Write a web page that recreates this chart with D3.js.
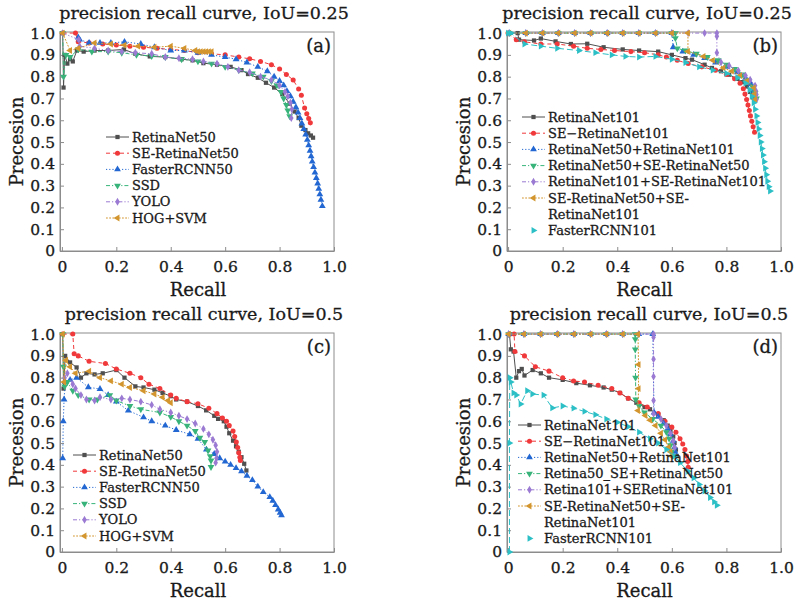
<!DOCTYPE html>
<html>
<head>
<meta charset="utf-8">
<script src="https://cdn.jsdelivr.net/npm/d3@7"></script>
<style>
  body { margin: 0; background: #fff; }
  text { font-family: "DejaVu Serif", serif; fill: #1a1a1a; stroke: #1a1a1a; stroke-width: 0.3px; }
</style>
</head>
<body>
<svg id="chart" width="801" height="603"></svg>
<script>
// ---- data: [recall, precision] ----
const xTicks = [0, 0.2, 0.4, 0.6, 0.8, 1.0];
const yTicks = [0, 0.1, 0.2, 0.3, 0.4, 0.5, 0.6, 0.7, 0.8, 0.9, 1.0];

const namesA = ['RetinaNet50', 'SE-RetinaNet50', 'FasterRCNN50', 'SSD', 'YOLO', 'HOG+SVM'];
const namesB = ['RetinaNet101', 'SE\u2212RetinaNet101', 'RetinaNet50+RetinaNet101', 'RetinaNet50+SE-RetinaNet50',
  'RetinaNet101+SE-RetinaNet101', 'SE-RetinaNet50+SE-\nRetinaNet101', 'FasterRCNN101'];
const namesD = ['RetinaNet101', 'SE\u2212RetinaNet101', 'RetinaNet50+RetinaNet101', 'Retina50_SE+RetinaNet50',
  'Retina101+SERetinaNet101', 'SE-RetinaNet50+SE-\nRetinaNet101', 'FasterRCNN101'];

// (a) IoU=0.25
const aRetina50 = [[0.003,1.0],[0.006,0.75],[0.01,0.9],[0.02,0.86],[0.03,0.88],[0.04,0.87],[0.055,0.92],[0.08,0.915],[0.12,0.92],[0.17,0.92],[0.228,0.925],[0.27,0.905],[0.323,0.893],[0.38,0.89],[0.44,0.88],[0.48,0.875],[0.52,0.862],[0.57,0.855],[0.62,0.845],[0.66,0.83],[0.684,0.812],[0.72,0.795],[0.75,0.772],[0.78,0.75],[0.81,0.72],[0.837,0.676],[0.855,0.64],[0.87,0.61],[0.88,0.575],[0.895,0.555],[0.905,0.54],[0.915,0.53],[0.923,0.52]];
const aSE50 = [[0.003,1.0],[0.05,1.0],[0.06,0.96],[0.1,0.955],[0.15,0.95],[0.2,0.945],[0.25,0.94],[0.3,0.935],[0.35,0.93],[0.4,0.925],[0.45,0.92],[0.5,0.91],[0.55,0.905],[0.6,0.9],[0.65,0.89],[0.69,0.882],[0.73,0.87],[0.77,0.855],[0.8,0.835],[0.825,0.81],[0.85,0.785],[0.87,0.743],[0.88,0.715],[0.892,0.656],[0.9,0.63],[0.907,0.608],[0.913,0.588]];
const aFaster50 = [[0.06,0.98],[0.065,0.97],[0.1,0.955],[0.14,0.955],[0.18,0.955],[0.23,0.96],[0.29,0.95],[0.34,0.935],[0.4,0.92],[0.45,0.92],[0.5,0.91],[0.55,0.9],[0.6,0.89],[0.64,0.88],[0.68,0.865],[0.72,0.845],[0.755,0.825],[0.78,0.8],[0.8,0.78],[0.815,0.76],[0.827,0.734],[0.84,0.71],[0.85,0.685],[0.86,0.66],[0.868,0.635],[0.875,0.61],[0.882,0.585],[0.889,0.56],[0.896,0.535],[0.902,0.51],[0.907,0.485],[0.912,0.46],[0.916,0.435],[0.92,0.41],[0.925,0.385],[0.93,0.36],[0.935,0.335],[0.94,0.31],[0.944,0.285],[0.948,0.26],[0.952,0.235],[0.957,0.206]];
const aSSD = [[0.003,1.0],[0.006,0.8],[0.015,0.9],[0.03,0.89],[0.06,0.925],[0.11,0.915],[0.17,0.915],[0.22,0.91],[0.274,0.9],[0.33,0.895],[0.38,0.89],[0.44,0.88],[0.5,0.87],[0.55,0.86],[0.6,0.845],[0.65,0.83],[0.7,0.815],[0.74,0.8],[0.77,0.78],[0.79,0.76],[0.805,0.73],[0.815,0.7],[0.825,0.67],[0.83,0.645],[0.837,0.618]];
const aYOLO = [[0.003,1.0],[0.062,0.97],[0.065,0.94],[0.12,0.93],[0.17,0.92],[0.22,0.915],[0.27,0.91],[0.33,0.905],[0.38,0.89],[0.43,0.885],[0.48,0.88],[0.52,0.87],[0.57,0.86],[0.61,0.845],[0.65,0.83],[0.69,0.82],[0.73,0.8],[0.77,0.785],[0.8,0.76],[0.82,0.73],[0.83,0.71],[0.84,0.68],[0.845,0.65],[0.843,0.61]];
const aHOG = [[0.003,1.0],[0.03,0.92],[0.06,0.93],[0.12,0.955],[0.18,0.95],[0.23,0.945],[0.28,0.94],[0.34,0.935],[0.4,0.94],[0.45,0.93],[0.49,0.92],[0.5,0.915],[0.51,0.915],[0.52,0.915],[0.53,0.915],[0.54,0.915],[0.55,0.915]];

// (b) IoU=0.25
const bRetina101 = [[0.0,1.0],[0.035,1.0],[0.04,0.97],[0.095,0.966],[0.12,0.975],[0.174,0.962],[0.23,0.95],[0.29,0.951],[0.35,0.935],[0.42,0.925],[0.48,0.92],[0.55,0.915],[0.6,0.9],[0.65,0.885],[0.674,0.878],[0.72,0.855],[0.747,0.84],[0.78,0.825],[0.81,0.809],[0.84,0.79],[0.86,0.775],[0.875,0.755],[0.887,0.73],[0.897,0.705],[0.905,0.69]];
const bSE101 = [[0.0,1.0],[0.03,0.97],[0.06,0.96],[0.12,0.95],[0.18,0.95],[0.24,0.94],[0.29,0.93],[0.34,0.925],[0.39,0.92],[0.45,0.915],[0.5,0.91],[0.55,0.9],[0.58,0.89],[0.62,0.875],[0.66,0.86],[0.71,0.845],[0.76,0.83],[0.8,0.81],[0.83,0.79],[0.85,0.77],[0.862,0.745],[0.868,0.72],[0.874,0.695],[0.879,0.67],[0.884,0.645],[0.888,0.62],[0.893,0.595],[0.898,0.57],[0.903,0.545]];
const bR50R101 = [[0.004,1.0],[0.065,1.0],[0.126,1.0],[0.184,1.0],[0.244,1.0],[0.302,1.0],[0.363,1.0],[0.42,1.0],[0.479,1.0],[0.54,1.0],[0.6,1.0],[0.605,0.935],[0.64,0.915],[0.68,0.9],[0.72,0.885],[0.76,0.865],[0.8,0.845],[0.84,0.82],[0.87,0.795],[0.89,0.765],[0.9,0.735],[0.905,0.705]];
const bR50SE50 = [[0.004,1.0],[0.065,1.0],[0.126,1.0],[0.184,1.0],[0.244,1.0],[0.302,1.0],[0.363,1.0],[0.42,1.0],[0.479,1.0],[0.54,1.0],[0.6,1.0],[0.613,1.0],[0.613,0.977],[0.62,0.93],[0.65,0.92],[0.69,0.905],[0.73,0.89],[0.77,0.875],[0.8,0.855],[0.83,0.835],[0.86,0.81],[0.88,0.785],[0.895,0.755],[0.905,0.725],[0.91,0.7]];
const bR101SE101 = [[0.004,1.0],[0.065,1.0],[0.126,1.0],[0.184,1.0],[0.244,1.0],[0.302,1.0],[0.363,1.0],[0.42,1.0],[0.479,1.0],[0.54,1.0],[0.6,1.0],[0.66,1.0],[0.72,1.0],[0.765,1.0],[0.765,0.985],[0.765,0.91],[0.78,0.866],[0.81,0.85],[0.844,0.827],[0.87,0.805],[0.887,0.786],[0.905,0.759],[0.908,0.735],[0.91,0.718],[0.91,0.695]];
const bSE50SE101 = [[0.004,1.0],[0.065,1.0],[0.126,1.0],[0.184,1.0],[0.244,1.0],[0.302,1.0],[0.363,1.0],[0.42,1.0],[0.479,1.0],[0.54,1.0],[0.6,1.0],[0.659,1.0],[0.659,0.916],[0.716,0.893],[0.75,0.875],[0.789,0.84],[0.82,0.825],[0.85,0.805],[0.875,0.78],[0.9,0.748],[0.903,0.72],[0.905,0.695]];
const bFaster101 = [[0.0,1.0],[0.01,1.0],[0.06,0.95],[0.12,0.94],[0.18,0.93],[0.26,0.92],[0.32,0.91],[0.38,0.9],[0.43,0.893],[0.48,0.89],[0.54,0.893],[0.6,0.88],[0.65,0.865],[0.7,0.845],[0.75,0.83],[0.8,0.815],[0.84,0.795],[0.87,0.77],[0.885,0.74],[0.893,0.71],[0.9,0.68],[0.905,0.65],[0.91,0.62],[0.914,0.59],[0.918,0.56],[0.922,0.53],[0.926,0.5],[0.93,0.47],[0.934,0.44],[0.938,0.41],[0.942,0.38],[0.946,0.35],[0.95,0.32],[0.955,0.295],[0.96,0.275]];

// (c) IoU=0.5
const cRetina50 = [[0.003,1.0],[0.006,0.75],[0.012,0.9],[0.03,0.87],[0.054,0.847],[0.07,0.8],[0.09,0.82],[0.12,0.815],[0.15,0.82],[0.2,0.835],[0.23,0.8],[0.27,0.76],[0.3,0.755],[0.34,0.745],[0.37,0.73],[0.4,0.715],[0.42,0.7],[0.46,0.69],[0.5,0.67],[0.53,0.65],[0.56,0.625],[0.574,0.611],[0.595,0.6],[0.605,0.575],[0.615,0.545],[0.629,0.511],[0.64,0.485],[0.65,0.46],[0.66,0.435],[0.67,0.405],[0.678,0.374]];
const cSE50 = [[0.003,1.0],[0.04,1.0],[0.045,0.91],[0.06,0.9],[0.1,0.875],[0.16,0.865],[0.2,0.84],[0.25,0.82],[0.29,0.8],[0.32,0.77],[0.36,0.75],[0.4,0.72],[0.42,0.705],[0.46,0.69],[0.5,0.68],[0.54,0.66],[0.57,0.635],[0.59,0.615],[0.605,0.6],[0.615,0.58],[0.629,0.555],[0.635,0.53],[0.641,0.505],[0.646,0.48],[0.65,0.455],[0.654,0.435],[0.656,0.42]];
const cFaster50 = [[0.003,0.43],[0.005,0.6],[0.008,0.7],[0.012,0.78],[0.03,0.79],[0.054,0.8],[0.097,0.756],[0.14,0.748],[0.17,0.72],[0.2,0.69],[0.244,0.649],[0.3,0.618],[0.33,0.6],[0.38,0.58],[0.42,0.56],[0.47,0.54],[0.5,0.52],[0.531,0.47],[0.56,0.45],[0.58,0.43],[0.6,0.415],[0.62,0.4],[0.64,0.385],[0.66,0.37],[0.68,0.35],[0.7,0.33],[0.72,0.3],[0.74,0.275],[0.764,0.252],[0.775,0.235],[0.785,0.215],[0.795,0.195],[0.802,0.18],[0.807,0.168]];
const cSSD = [[0.003,1.0],[0.006,0.85],[0.01,0.76],[0.02,0.78],[0.04,0.74],[0.06,0.72],[0.1,0.7],[0.13,0.7],[0.176,0.72],[0.2,0.695],[0.25,0.67],[0.29,0.655],[0.36,0.64],[0.4,0.62],[0.43,0.6],[0.46,0.58],[0.49,0.555],[0.507,0.524],[0.525,0.505],[0.537,0.466],[0.545,0.44],[0.548,0.42],[0.548,0.39]];
const cYOLO = [[0.01,0.8],[0.02,0.82],[0.04,0.77],[0.05,0.75],[0.07,0.72],[0.09,0.7],[0.12,0.695],[0.14,0.71],[0.18,0.7],[0.22,0.705],[0.25,0.7],[0.29,0.69],[0.33,0.675],[0.36,0.655],[0.4,0.64],[0.43,0.625],[0.46,0.61],[0.49,0.59],[0.52,0.565],[0.54,0.54],[0.555,0.515],[0.565,0.49],[0.57,0.46],[0.568,0.43],[0.565,0.41]];
const cHOG = [[0.003,1.0],[0.008,0.78],[0.015,0.88],[0.03,0.85],[0.05,0.82],[0.1,0.83],[0.14,0.8],[0.18,0.785],[0.22,0.77],[0.25,0.755],[0.3,0.74],[0.34,0.725],[0.37,0.71],[0.39,0.695],[0.4,0.685]];

// (d) IoU=0.5
const dRetina101 = [[0.005,1.0],[0.01,0.93],[0.02,0.92],[0.03,0.8],[0.04,0.83],[0.05,0.84],[0.06,0.81],[0.09,0.835],[0.12,0.82],[0.15,0.8],[0.2,0.79],[0.25,0.775],[0.3,0.765],[0.35,0.755],[0.38,0.745],[0.41,0.73],[0.44,0.705],[0.47,0.685],[0.5,0.665],[0.52,0.655],[0.55,0.63],[0.57,0.605],[0.585,0.58],[0.595,0.555],[0.605,0.53],[0.61,0.5],[0.615,0.47],[0.618,0.44]];
const dSE101 = [[0.005,1.0],[0.022,1.0],[0.025,0.92],[0.06,0.9],[0.1,0.85],[0.15,0.83],[0.2,0.8],[0.24,0.785],[0.28,0.78],[0.33,0.765],[0.38,0.75],[0.41,0.73],[0.44,0.705],[0.48,0.685],[0.51,0.665],[0.55,0.635],[0.575,0.6],[0.6,0.573],[0.615,0.55],[0.63,0.52],[0.64,0.496],[0.648,0.47],[0.654,0.44],[0.658,0.415],[0.66,0.389]];
const dR50R101 = [[0.002,1.0],[0.058,1.0],[0.119,1.0],[0.18,1.0],[0.241,1.0],[0.302,1.0],[0.36,1.0],[0.42,1.0],[0.479,1.0],[0.53,1.0],[0.535,0.64],[0.55,0.62],[0.57,0.59],[0.585,0.565],[0.595,0.54],[0.605,0.51],[0.61,0.48],[0.612,0.46]];
const dR50SE50 = [[0.002,1.0],[0.058,1.0],[0.119,1.0],[0.18,1.0],[0.241,1.0],[0.302,1.0],[0.36,1.0],[0.42,1.0],[0.466,1.0],[0.466,0.977],[0.466,0.93],[0.467,0.8],[0.468,0.7],[0.48,0.67],[0.5,0.64],[0.53,0.61],[0.56,0.58],[0.58,0.55],[0.59,0.52],[0.595,0.49],[0.6,0.46]];
const dR101SE101 = [[0.002,1.0],[0.058,1.0],[0.119,1.0],[0.18,1.0],[0.241,1.0],[0.302,1.0],[0.36,1.0],[0.42,1.0],[0.479,1.0],[0.533,1.0],[0.533,0.985],[0.533,0.885],[0.533,0.805],[0.533,0.695],[0.533,0.634],[0.56,0.61],[0.58,0.58],[0.595,0.545],[0.605,0.51],[0.61,0.48]];
const dSE50SE101 = [[0.002,1.0],[0.058,1.0],[0.119,1.0],[0.18,1.0],[0.241,1.0],[0.302,1.0],[0.36,1.0],[0.42,1.0],[0.476,1.0],[0.478,0.86],[0.478,0.75],[0.476,0.649],[0.503,0.626],[0.52,0.605],[0.54,0.58],[0.56,0.545],[0.575,0.515],[0.588,0.481],[0.595,0.46],[0.598,0.44]];
const dFaster101 = [[0.005,0.0],[0.005,0.5],[0.006,0.8],[0.01,0.78],[0.02,0.73],[0.03,0.72],[0.046,0.679],[0.07,0.74],[0.089,0.725],[0.13,0.72],[0.162,0.661],[0.2,0.67],[0.24,0.66],[0.28,0.645],[0.32,0.63],[0.36,0.61],[0.4,0.595],[0.44,0.575],[0.48,0.55],[0.52,0.52],[0.55,0.5],[0.58,0.47],[0.61,0.44],[0.63,0.41],[0.66,0.37],[0.68,0.34],[0.7,0.31],[0.72,0.28],[0.74,0.25],[0.755,0.23],[0.765,0.214]];

// ---- styles by series index ----
const colors = ['#4f4f4f', '#f0393b', '#2368d2', '#38b47a', '#9a7ad2', '#d3962f', '#2cc0c6'];
const dashes = [null, '4,3', '1.2,2', '4,2,1.2,2', '4,2,1.2,2,1.2,2', '1.8,1.4', '6,3'];
const shapes = [
  {type: d3.symbolSquare, rot: 0, size: 18},
  {type: d3.symbolCircle, rot: 0, size: 20},
  {type: d3.symbolTriangle, rot: 0, size: 20},
  {type: d3.symbolTriangle, rot: 180, size: 20},
  {type: d3.symbolDiamond, rot: 0, size: 18},
  {type: d3.symbolTriangle, rot: -90, size: 20},
  {type: d3.symbolTriangle, rot: 90, size: 20}
];

const W = 274, H = 219;
const panels = [
  {left: 60, top: 32, x0: -0.007, titleShift: 7, title: 'precision recall curve, IoU=0.25', tag: '(a)',
   series: [aRetina50, aSE50, aFaster50, aSSD, aYOLO, aHOG], names: namesA, legend: {x: 46, y: 105}},
  {left: 507, top: 32, x0: -0.004, titleShift: 3, title: 'precision recall curve, IoU=0.25', tag: '(b)',
   series: [bRetina101, bSE101, bR50R101, bR50SE50, bR101SE101, bSE50SE101, bFaster101], names: namesB, legend: {x: 15, y: 85}},
  {left: 60, top: 333, x0: -0.007, titleShift: 7, title: 'precision recall curve, IoU=0.5', tag: '(c)',
   series: [cRetina50, cSE50, cFaster50, cSSD, cYOLO, cHOG], names: namesA, legend: {x: 13, y: 122}},
  {left: 507, top: 333, x0: -0.004, titleShift: 5, title: 'precision recall curve, IoU=0.5', tag: '(d)',
   series: [dRetina101, dSE101, dR50R101, dR50SE50, dR101SE101, dSE50SE101, dFaster101], names: namesD, legend: {x: 11, y: 92}}
];

const svg = d3.select('#chart');
const fmt = d => d === 0 ? '0' : d.toFixed(1);

function symbolPath(i) {
  return d3.symbol().type(shapes[i].type).size(shapes[i].size)();
}

panels.forEach(p => {
  const g = svg.append('g').attr('transform', `translate(${p.left},${p.top})`);
  const x = d3.scaleLinear().domain([p.x0, 1.0]).range([0, W]);
  const y = d3.scaleLinear().domain([0, 1.005]).range([H, 0]);

  // frame
  g.append('rect').attr('width', W).attr('height', H)
    .attr('fill', 'none').attr('stroke', '#8c8c8c').attr('stroke-width', 1);

  const xAxis = d3.axisBottom(x).tickValues(xTicks).tickFormat(fmt)
    .tickSizeInner(-4).tickSizeOuter(0).tickPadding(10);
  const yAxis = d3.axisLeft(y).tickValues(yTicks).tickFormat(fmt)
    .tickSizeInner(-4).tickSizeOuter(0).tickPadding(5);

  const xg = g.append('g').attr('transform', `translate(0,${H})`).call(xAxis);
  const yg = g.append('g').call(yAxis);
  [xg, yg].forEach(a => {
    a.select('.domain').attr('stroke', '#8c8c8c');
    a.selectAll('.tick line').attr('stroke', '#8c8c8c');
    a.selectAll('.tick text').attr('font-size', 15.5).attr('font-family', '"DejaVu Serif", serif').attr('fill', '#1a1a1a');
  });

  // axis titles
  g.append('text').attr('x', (x(0) + x(1)) / 2).attr('y', H + 45)
    .attr('text-anchor', 'middle').attr('font-size', 18).text('Recall');
  g.append('text').attr('transform', `translate(-37,${H / 2}) rotate(-90)`)
    .attr('text-anchor', 'middle').attr('font-size', 18).text('Precesion');
  g.append('text').attr('x', W / 2 + p.titleShift).attr('y', -13)
    .attr('text-anchor', 'middle').attr('font-size', 17.5).text(p.title);
  g.append('text').attr('x', W - 3).attr('y', 20)
    .attr('text-anchor', 'end').attr('font-size', 18).text(p.tag);

  // curves
  const line = d3.line().x(d => x(d[0])).y(d => y(d[1]));
  p.series.forEach((s, i) => {
    const sg = g.append('g');
    sg.append('path').datum(s).attr('d', line)
      .attr('fill', 'none').attr('stroke', colors[i]).attr('stroke-width', 1)
      .attr('stroke-dasharray', dashes[i]);
    sg.selectAll('path.mk').data(s).join('path').attr('class', 'mk')
      .attr('d', symbolPath(i)).attr('fill', colors[i])
      .attr('transform', d => `translate(${x(d[0])},${y(d[1])}) rotate(${shapes[i].rot})`);
  });

  // legend (the FasterRCNN101 entry shows only its marker)
  const lg = g.append('g').attr('transform', `translate(${p.legend.x},${p.legend.y})`);
  let row = 0;
  p.names.forEach((name, i) => {
    const cy = row * 16.2;
    if (i < 6) {
      lg.append('line').attr('x1', 0).attr('x2', 23).attr('y1', cy).attr('y2', cy)
        .attr('stroke', colors[i]).attr('stroke-width', 1).attr('stroke-dasharray', dashes[i]);
    }
    lg.append('path').attr('d', symbolPath(i)).attr('fill', colors[i])
      .attr('transform', `translate(11.5,${cy}) rotate(${shapes[i].rot})`);
    name.split('\n').forEach((part, k) => {
      lg.append('text').attr('x', 26).attr('y', cy + k * 16.2 + 4.5)
        .attr('font-size', 13).text(part);
    });
    row += name.split('\n').length;
  });
});
</script>
</body>
</html>
